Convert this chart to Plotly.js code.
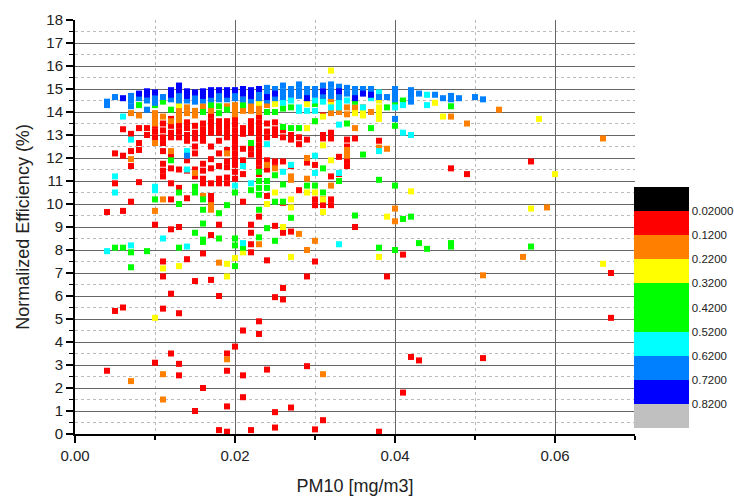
<!DOCTYPE html>
<html>
<head>
<meta charset="utf-8">
<script src="https://cdn.plot.ly/plotly-3.0.1.min.js"></script>
<style>html,body{margin:0;padding:0;background:#fff;}#chart{width:734px;height:502px;}</style>
</head>
<body>
<div id="chart"></div>
<script>
// Colour-class values (the colour variable shown by the colour bar)
const classNames = ['red', 'orange', 'yellow', 'green', 'cyan', 'azure', 'blue'];
const classValues = [0.07, 0.17, 0.27, 0.40, 0.57, 0.67, 0.77];

// Points per class: [PM10 (mg/m3), [Normalized efficiency (%) ...]]
const redPts = [
  [0.004, [9.65, 2.75]], [0.005, [12.2, 10.9, 5.35]], [0.006, [13.25, 12.1, 9.7, 5.5]],
  [0.007, [13.05, 12.3, 11.65, 10.1]], [0.008, [13.3, 12.65, 12.35, 10.95]], [0.009, [13.3, 13.0]],
  [0.010, [13.4, 13.15, 12.9, 9.1, 3.1]],
  [0.011, [13.5, 13.2, 12.9, 12.65, 12.3, 11.75, 11.45, 11.2, 7.5, 6.85, 5.45]],
  [0.012, [13.7, 13.4, 13.1, 12.9, 12.05, 11.55, 10.9, 10.2, 8.9, 6.1, 3.5]],
  [0.013, [13.4, 13.15, 12.9, 11.5, 10.7, 9.0, 5.25, 3.05, 2.55]],
  [0.014, [13.55, 13.3, 13.0, 12.75, 11.9, 11.45, 10.25, 7.6]],
  [0.015, [13.4, 13.1, 12.85, 12.5, 12.2, 11.5, 11.2, 6.65, 1.0]],
  [0.016, [13.5, 13.25, 13.0, 12.75, 11.75, 11.45, 11.1, 10.9, 7.85, 2.0]],
  [0.017, [13.85, 13.6, 13.35, 13.1, 12.5, 11.95, 11.55, 10.9, 10.35, 10.15, 8.65, 6.7]],
  [0.018, [13.6, 13.35, 13.1, 12.75, 12.2, 11.65, 11.1, 10.9, 9.1, 6.0, 0.17]],
  [0.019, [13.6, 13.35, 13.1, 12.9, 12.35, 11.85, 11.6, 11.15, 10.9, 3.5, 2.75, 1.2, 0.1]],
  [0.020, [13.7, 13.45, 13.2, 12.95, 12.7, 12.45, 12.2, 11.95, 11.7, 11.4, 11.1, 3.8]],
  [0.021, [13.3, 13.05, 12.4, 11.9, 11.3, 10.1, 4.5, 2.55, 1.6]],
  [0.022, [13.6, 13.35, 13.1, 12.4, 12.15, 9.1, 8.75, 8.25, 7.9, 0.17]],
  [0.023, [13.8, 13.55, 13.3, 13.05, 12.8, 12.55, 12.3, 12.05, 11.8, 11.55, 11.3, 9.45, 4.9, 4.35]],
  [0.024, [13.5, 13.15, 12.9, 11.9, 11.5, 10.35, 7.55, 2.8]],
  [0.025, [13.55, 13.25, 13.0, 11.85, 11.6, 9.05, 5.95, 0.95, 0.28]],
  [0.026, [13.2, 12.9, 11.85, 10.05, 8.75, 6.35, 5.85]],
  [0.027, [13.0, 12.8, 11.65, 8.8, 1.15]],
  [0.028, [12.9, 12.6, 10.6]], [0.029, [12.8, 11.8, 6.85, 2.95]],
  [0.030, [11.7, 10.2, 9.95, 7.5, 0.2]], [0.031, [13.85, 13.0, 12.85, 10.2, 9.95, 0.6]],
  [0.032, [13.1, 12.85, 11.2, 10.2, 9.95]], [0.033, [12.05, 11.3]],
  [0.034, [12.8, 12.5, 12.2, 11.9, 11.65]], [0.035, [12.85, 9.0]],
  [0.038, [12.75, 0.1]], [0.039, [6.85]], [0.041, [7.8, 1.8]], [0.042, [3.35]], [0.043, [3.2]],
  [0.047, [11.55]], [0.049, [11.3]], [0.051, [3.3]], [0.057, [11.85]], [0.067, [7.0, 5.05]]
];
const orangePts = [
  [0.007, [13.95, 11.95, 2.3]], [0.008, [13.85]], [0.010, [13.95, 13.7, 13.5, 12.65, 9.7]],
  [0.011, [13.8, 10.2, 2.6, 1.5]], [0.012, [13.6, 12.3]], [0.013, [14.1, 13.9, 13.65]],
  [0.014, [14.2, 13.95]], [0.015, [14.05, 13.85, 11.35]], [0.016, [14.25, 10.35]],
  [0.017, [14.05, 9.95, 9.75]], [0.018, [7.45]], [0.019, [14.25, 12.2, 3.25]],
  [0.020, [14.3, 14.1, 13.9]], [0.021, [14.05]], [0.022, [14.3, 14.05]], [0.023, [14.2, 14.0, 8.25]],
  [0.024, [14.3, 11.7]], [0.025, [11.55]], [0.027, [11.2, 11.05]], [0.028, [8.7]],
  [0.029, [12.0, 11.1, 8.0]], [0.030, [8.4]], [0.031, [2.6]], [0.032, [14.45, 14.1, 13.95, 10.8]],
  [0.033, [14.0]], [0.034, [14.2, 13.9, 12.35, 12.1]], [0.035, [14.2, 14.05, 13.3]],
  [0.036, [14.2]], [0.037, [14.0]], [0.038, [12.45]], [0.039, [12.4]], [0.040, [9.8, 9.25]],
  [0.047, [13.8]], [0.049, [13.5]], [0.051, [6.9]], [0.053, [14.1]], [0.056, [7.7]],
  [0.059, [9.85]], [0.066, [12.85]]
];
const yellowPts = [
  [0.010, [5.05]], [0.011, [7.2]], [0.013, [14.3, 7.3]], [0.019, [7.4, 6.85]], [0.020, [7.65]],
  [0.021, [7.9]], [0.023, [14.4]], [0.024, [10.0]], [0.025, [14.35, 10.5]], [0.026, [14.25, 9.0]],
  [0.027, [10.2, 9.85, 7.7]], [0.029, [14.35, 13.3, 10.5]], [0.030, [10.5]],
  [0.031, [13.8, 12.55, 10.2, 9.65]], [0.032, [15.8, 14.3, 11.9]], [0.035, [13.95]],
  [0.036, [14.05, 13.85]], [0.038, [14.5, 14.2, 13.95, 13.7, 7.7]], [0.039, [9.45]],
  [0.042, [10.55]], [0.045, [14.4]], [0.046, [13.8]], [0.057, [9.8]], [0.058, [13.7]],
  [0.060, [11.3]], [0.066, [7.4]]
];
const greenPts = [
  [0.005, [8.1]], [0.006, [8.1]], [0.007, [7.9, 7.25]], [0.008, [14.3]], [0.009, [7.95]],
  [0.010, [14.3, 10.2]], [0.011, [14.45]], [0.012, [14.1, 11.9]], [0.013, [10.5, 10.0, 8.1]],
  [0.015, [10.75, 10.5, 8.75]], [0.016, [14.0, 10.2, 9.75, 9.15, 8.45, 8.35]], [0.017, [14.3]],
  [0.018, [14.25, 13.95, 9.6, 8.5]], [0.019, [14.1, 9.95]], [0.020, [10.5, 8.5, 8.2, 7.3]],
  [0.021, [14.3, 8.1]], [0.022, [12.65, 10.6]], [0.023, [11.4, 11.0, 10.7, 10.4, 9.75, 8.55]],
  [0.024, [14.0, 11.0, 10.7, 8.95]], [0.025, [14.0, 11.25, 10.1, 8.4]],
  [0.026, [14.15, 13.35, 10.85, 10.1]], [0.027, [14.2, 13.3, 9.4]], [0.028, [13.3]],
  [0.029, [10.8]], [0.030, [14.35, 13.6, 10.8]], [0.031, [14.5, 11.55, 10.5]],
  [0.033, [14.5, 11.0]], [0.034, [13.5]], [0.035, [14.45, 9.5]], [0.036, [12.15]],
  [0.037, [13.3]], [0.038, [11.05, 8.1]], [0.039, [14.2]], [0.040, [14.4, 13.4, 10.8, 8.0]],
  [0.041, [14.5, 9.35]], [0.042, [9.45]], [0.043, [8.3]], [0.044, [8.05]],
  [0.047, [14.25, 8.3, 8.15]], [0.057, [8.15]]
];
const cyanPts = [
  [0.004, [7.95]], [0.005, [11.2, 10.5]], [0.006, [13.8]], [0.007, [12.8, 8.2]],
  [0.010, [10.75, 10.6]], [0.011, [8.5]], [0.014, [12.3, 11.5, 8.15]], [0.020, [10.8]],
  [0.021, [11.65, 8.3]], [0.022, [10.9]], [0.024, [12.6]], [0.026, [14.4, 11.4]],
  [0.027, [14.5, 11.7]], [0.028, [14.2, 14.05]], [0.029, [14.05]],
  [0.030, [14.5, 14.05, 12.1, 11.35]], [0.031, [14.45]], [0.032, [14.2]],
  [0.033, [14.4, 14.2, 13.45, 11.35, 8.25]], [0.034, [14.5]], [0.036, [14.2]], [0.037, [14.6]],
  [0.038, [14.85, 12.3]], [0.040, [14.2]], [0.041, [14.3, 13.1]], [0.042, [13.0]],
  [0.044, [14.75, 14.3]]
];
const azurePts = [
  [0.004, [14.45, 14.3]], [0.005, [14.65]], [0.007, [14.7, 14.5, 14.25]], [0.008, [14.6]],
  [0.009, [14.5, 14.1]], [0.010, [14.65, 14.4]], [0.011, [14.65]], [0.012, [14.55]],
  [0.013, [14.7, 14.5]], [0.014, [14.5, 12.1]], [0.015, [14.65, 14.45]], [0.016, [14.5]],
  [0.017, [14.55]], [0.018, [14.75, 14.55]], [0.019, [14.55]], [0.020, [14.75, 14.6]],
  [0.021, [14.55]], [0.022, [14.5]], [0.023, [14.8, 14.6]], [0.024, [15.05, 14.85, 14.5]],
  [0.025, [15.0, 14.6]], [0.026, [15.15, 14.9, 14.65]], [0.027, [15.0, 14.75]],
  [0.028, [15.2, 14.95, 14.7]], [0.029, [15.0, 14.8]], [0.030, [15.0, 14.75]],
  [0.031, [15.15, 14.7]], [0.032, [15.2, 14.95, 14.7]], [0.033, [15.1, 14.65]],
  [0.034, [15.05, 14.8]], [0.035, [15.0, 14.75]], [0.036, [15.0]], [0.037, [15.0]],
  [0.038, [14.65]], [0.039, [14.65]], [0.040, [15.0, 14.75, 14.55, 13.7]],
  [0.042, [14.95, 14.7, 14.45]], [0.043, [14.8]], [0.045, [14.75]], [0.046, [14.6]],
  [0.047, [14.7, 14.55]], [0.048, [14.6]], [0.050, [14.65]], [0.051, [14.55]]
];
const bluePts = [
  [0.006, [14.6]], [0.008, [14.8]], [0.009, [14.9, 14.75]], [0.010, [14.85]],
  [0.012, [14.95, 14.75]], [0.013, [15.15, 14.95]], [0.014, [14.9, 14.7]], [0.015, [14.85]],
  [0.016, [14.9, 14.7]], [0.017, [14.95, 14.75]], [0.018, [14.95]], [0.019, [14.95, 14.75]],
  [0.020, [14.95]], [0.021, [15.0, 14.8]], [0.022, [14.95, 14.7]], [0.023, [15.0]],
  [0.024, [14.65]], [0.025, [14.8]], [0.029, [14.6]], [0.031, [14.9]], [0.033, [14.9]],
  [0.035, [14.6]], [0.036, [14.8]], [0.037, [14.75]]
];

// Colour bar boundaries and labels
const barTicks = [0.02, 0.12, 0.22, 0.32, 0.42, 0.52, 0.62, 0.72, 0.82];
const barLabels = ['0.02000', '0.1200', '0.2200', '0.3200', '0.4200', '0.5200', '0.6200', '0.7200', '0.8200'];
const barMin = -0.08, barMax = 0.92;

const groups = [redPts, orangePts, yellowPts, greenPts, cyanPts, azurePts, bluePts];
const xs = [], ys = [], cs = [];
groups.forEach((g, gi) => {
  g.forEach(([x, list]) => list.forEach(y => { xs.push(x); ys.push(y); cs.push(-classValues[gi]); }));
});

// discrete colour scale (values negated so the bar reads top-down like the original)
const blockColors = ['#c0c0c0', '#0000ff', '#0080ff', '#00ffff', '#00ff00', '#00ff00', '#ffff00', '#ff8000', '#ff0000', '#000000'];
const cscale = [];
blockColors.forEach((c, i) => { cscale.push([i / 10, c]); cscale.push([(i + 1) / 10, c]); });

const fontFam = 'Arial, "Liberation Sans", sans-serif';
const trace = {
  type: 'scatter', mode: 'markers', x: xs, y: ys,
  marker: {
    symbol: 'square', size: 6, color: cs, cmin: -barMax, cmax: -barMin,
    colorscale: cscale, showscale: true, line: {width: 0},
    colorbar: {
      x: 0.998, xanchor: 'left', xref: 'paper', xpad: 0,
      y: 0.0145, yanchor: 'bottom', ypad: 0,
      len: 241, lenmode: 'pixels', thickness: 55, thicknessmode: 'pixels',
      outlinewidth: 0, ticks: '', tickvals: barTicks.map(v => -v), ticktext: barLabels,
      tickfont: {family: fontFam, size: 11.5, color: '#222'}
    }
  },
  hoverinfo: 'x+y'
};

const axisCommon = {
  ticks: 'outside', ticklen: 7, tickwidth: 1.5, tickcolor: '#000',
  showline: true, linecolor: '#000', linewidth: 2,
  showgrid: true, gridcolor: '#666', gridwidth: 1, zeroline: false,
  tickfont: {family: fontFam, size: 15, color: '#222'}
};

const layout = {
  width: 734, height: 502,
  margin: {l: 75, r: 99, t: 20, b: 68, autoexpand: false},
  paper_bgcolor: '#fff', plot_bgcolor: '#fff',
  showlegend: false,
  xaxis: Object.assign({}, axisCommon, {
    range: [0, 0.07], tick0: 0, dtick: 0.02, tickformat: '.2f',
    minor: {dtick: 0.01, ticks: 'outside', ticklen: 4, tickcolor: '#000', showgrid: true, gridcolor: '#bbb', griddash: 'dot', gridwidth: 1},
    title: {text: 'PM10 [mg/m3]', font: {family: fontFam, size: 18, color: '#222'}, standoff: 16}
  }),
  yaxis: Object.assign({}, axisCommon, {
    range: [0, 18], tick0: 0, dtick: 1,
    minor: {dtick: 0.5, ticks: 'outside', ticklen: 4, tickcolor: '#000', showgrid: true, gridcolor: '#bbb', griddash: 'dot', gridwidth: 1},
    title: {text: 'Normalized Efficiency (%)', font: {family: fontFam, size: 18, color: '#222'}, standoff: 12}
  })
};

Plotly.newPlot('chart', [trace], layout, {staticPlot: true, displayModeBar: false});
</script>
</body>
</html>
